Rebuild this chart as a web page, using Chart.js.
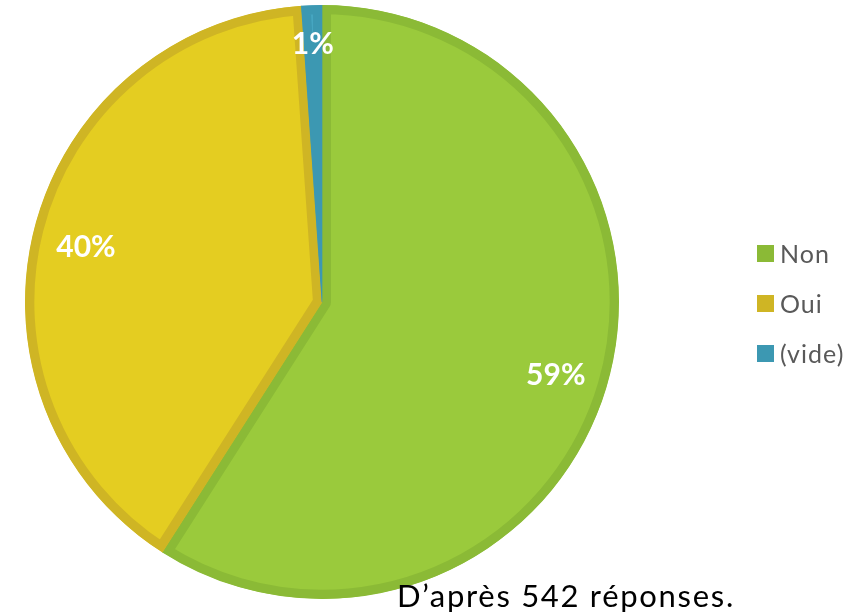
<!DOCTYPE html>
<html>
<head>
<meta charset="utf-8">
<script src="https://cdn.jsdelivr.net/npm/chart.js@4.4.1/dist/chart.umd.min.js"></script>
<style>
html, body { margin:0; padding:0; background:#fff; overflow:hidden; }
#wrap { position:relative; width:868px; height:614px; }
#legend { position:absolute; left:757px; top:238px; font-family:Lato, sans-serif; font-size:25px; letter-spacing:1px; color:#595959; }
#legend div { height:50px; display:flex; align-items:flex-start; }
#legend span.box { display:inline-block; width:17px; height:17px; margin:7px 6px 0 0; }
#note { position:absolute; left:397px; top:576px; font-family:Lato, sans-serif; font-size:31px; letter-spacing:1.7px; color:#000; white-space:nowrap; }
</style>
</head>
<body>
<div id="wrap">
<canvas id="pieChart" width="868" height="614"></canvas>
<div id="legend"></div>
<div id="note">D’après 542 réponses.</div>
</div>
<script>
// Data
const labels = ["Non", "Oui", "(vide)"];
const counts = [320, 216, 6];
const pctLabels = ["59%", "40%", "1%"];

const fillColors = ["#9aca3c", "#e4cd21", "#46a6c1"];
const borderColors = ["#8bba36", "#cfb524", "#3c98b2"];
const labelRadius = [0.82, 0.82, 0.885];

// Percent labels drawn on the slices
const pctPlugin = {
id: "pctLabels",
afterDatasetsDraw(chart) {
const ctx = chart.ctx;
const meta = chart.getDatasetMeta(0);
ctx.save();
ctx.fillStyle = "#fff";
ctx.font = "bold 30px Lato, sans-serif";
ctx.textAlign = "center";
ctx.textBaseline = "middle";
meta.data.forEach((arc, i) => {
const mid = (arc.startAngle + arc.endAngle) / 2;
const r = arc.outerRadius * labelRadius[i];
ctx.fillText(pctLabels[i], arc.x + Math.cos(mid) * r, arc.y + Math.sin(mid) * r + 5);
});
ctx.restore();
}
};

new Chart(document.getElementById("pieChart").getContext("2d"), {
type: "pie",
data: {
labels: labels,
datasets: [{
data: counts,
backgroundColor: fillColors,
borderColor: borderColors,
borderWidth: 9,
borderAlign: "inner"
}]
},
options: {
responsive: false,
animation: false,
radius: 297,
layout: { padding: { left: 0, right: 224, top: 0, bottom: 10 } },
plugins: {
legend: { display: false },
tooltip: { enabled: false }
}
},
plugins: [pctPlugin]
});

// Legend
const legendEl = document.getElementById("legend");
labels.forEach((name, i) => {
const row = document.createElement("div");
row.innerHTML = `<span class="box" style="background:${borderColors[i]}"></span>${name}`;
legendEl.appendChild(row);
});
</script>
</body>
</html>
